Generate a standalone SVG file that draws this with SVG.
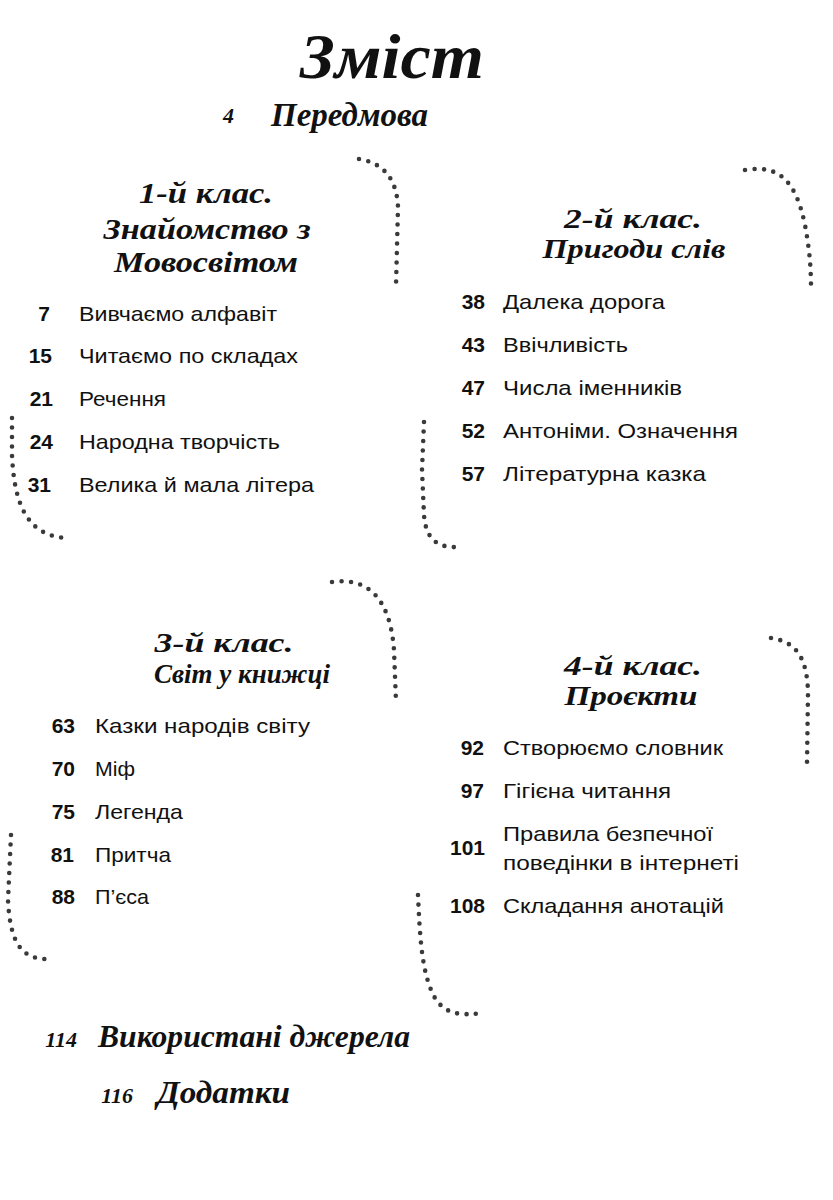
<svg xmlns="http://www.w3.org/2000/svg" width="833" height="1200" viewBox="0 0 833 1200">
<style>
.bg{fill:#ffffff}
.scr{font-family:"Liberation Serif","DejaVu Serif",serif;font-style:italic;font-weight:bold;fill:#111}
.num{font-family:"Liberation Sans","DejaVu Sans",sans-serif;font-weight:bold;font-size:21px;fill:#111;text-anchor:end}
.itm{font-family:"Liberation Sans","DejaVu Sans",sans-serif;font-size:21px;fill:#111}
.hd{font-size:29px;text-anchor:middle}
.hd2{font-size:27px;text-anchor:middle}
.dots{fill:none;stroke:#3a3a3a;stroke-width:4.6;stroke-linecap:round;stroke-dasharray:0 9.5}
</style>
<rect class="bg" x="0" y="0" width="833" height="1200"/>

<g id="title">
<text class="scr" x="392" y="78" font-size="64" text-anchor="middle" textLength="184" lengthAdjust="spacingAndGlyphs">Зміст</text>
</g>

<g id="preface">
<text class="scr" x="234" y="123" font-size="22" text-anchor="end">4</text>
<text class="scr" x="271" y="126" font-size="34" textLength="157" lengthAdjust="spacingAndGlyphs">Передмова</text>
</g>

<g id="decor">
<path class="dots" d="M359,159 Q396,165 398,207 L396,286"/>
<path class="dots" d="M745,170 C780,164 796,182 805,225 C810,252 811,270 811,289"/>
<path class="dots" d="M12,418 L12,455 C14,500 25,538 70,538"/>
<path class="dots" d="M424,422 L422,470 L424,515 C426,542 440,548 459,547"/>
<path class="dots" d="M332,582 C367,577 390,597 394,650 L396,702"/>
<path class="dots" d="M771,638 C798,642 807,660 808,692 L807,764"/>
<path class="dots" d="M11,835 L8,900 C10,942 21,959 47,959"/>
<path class="dots" d="M418,895 C420,940 422,975 435,998 C445,1014 460,1016 482,1013"/>
</g>

<g id="class1">
<text class="scr hd" x="206" y="203" textLength="134" lengthAdjust="spacingAndGlyphs">1-й клас.</text>
<text class="scr hd" x="207" y="239" textLength="207" lengthAdjust="spacingAndGlyphs">Знайомство з</text>
<text class="scr hd" x="206" y="272" textLength="184" lengthAdjust="spacingAndGlyphs">Мовосвітом</text>
<text class="num" x="50" y="321">7</text>
<text class="itm" x="79" y="321" textLength="198" lengthAdjust="spacingAndGlyphs">Вивчаємо алфавіт</text>
<text class="num" x="52" y="363">15</text>
<text class="itm" x="79" y="363" textLength="219" lengthAdjust="spacingAndGlyphs">Читаємо по складах</text>
<text class="num" x="53" y="406">21</text>
<text class="itm" x="79" y="406" textLength="87" lengthAdjust="spacingAndGlyphs">Речення</text>
<text class="num" x="53" y="449">24</text>
<text class="itm" x="79" y="449" textLength="201" lengthAdjust="spacingAndGlyphs">Народна творчість</text>
<text class="num" x="51" y="492">31</text>
<text class="itm" x="79" y="492" textLength="235" lengthAdjust="spacingAndGlyphs">Велика й мала літера</text>
</g>

<g id="class2">
<text class="scr hd2" x="633" y="228" textLength="138" lengthAdjust="spacingAndGlyphs">2-й клас.</text>
<text class="scr hd2" x="634" y="258" textLength="183" lengthAdjust="spacingAndGlyphs">Пригоди слів</text>
<text class="num" x="485" y="309">38</text>
<text class="itm" x="503" y="309" textLength="162" lengthAdjust="spacingAndGlyphs">Далека дорога</text>
<text class="num" x="485" y="352">43</text>
<text class="itm" x="503" y="352" textLength="125" lengthAdjust="spacingAndGlyphs">Ввічливість</text>
<text class="num" x="485" y="395">47</text>
<text class="itm" x="503" y="395" textLength="179" lengthAdjust="spacingAndGlyphs">Числа іменників</text>
<text class="num" x="485" y="438">52</text>
<text class="itm" x="503" y="438" textLength="235" lengthAdjust="spacingAndGlyphs">Антоніми. Означення</text>
<text class="num" x="485" y="481">57</text>
<text class="itm" x="503" y="481" textLength="203" lengthAdjust="spacingAndGlyphs">Літературна казка</text>
</g>

<g id="class3">
<text class="scr hd2" x="224" y="652" textLength="139" lengthAdjust="spacingAndGlyphs">3-й клас.</text>
<text class="scr hd2" x="242" y="683" textLength="176" lengthAdjust="spacingAndGlyphs">Світ у книжці</text>
<text class="num" x="75" y="733">63</text>
<text class="itm" x="95" y="733" textLength="215" lengthAdjust="spacingAndGlyphs">Казки народів світу</text>
<text class="num" x="75" y="776">70</text>
<text class="itm" x="95" y="776" textLength="40" lengthAdjust="spacingAndGlyphs">Міф</text>
<text class="num" x="75" y="819">75</text>
<text class="itm" x="95" y="819" textLength="88" lengthAdjust="spacingAndGlyphs">Легенда</text>
<text class="num" x="74" y="862">81</text>
<text class="itm" x="95" y="862" textLength="76" lengthAdjust="spacingAndGlyphs">Притча</text>
<text class="num" x="75" y="904">88</text>
<text class="itm" x="95" y="904" textLength="54" lengthAdjust="spacingAndGlyphs">П’єса</text>
</g>

<g id="class4">
<text class="scr hd2" x="633" y="675" textLength="138" lengthAdjust="spacingAndGlyphs">4-й клас.</text>
<text class="scr hd2" x="631" y="705" textLength="133" lengthAdjust="spacingAndGlyphs">Проєкти</text>
<text class="num" x="484" y="755">92</text>
<text class="itm" x="503" y="755" textLength="220" lengthAdjust="spacingAndGlyphs">Створюємо словник</text>
<text class="num" x="484" y="798">97</text>
<text class="itm" x="503" y="798" textLength="168" lengthAdjust="spacingAndGlyphs">Гігієна читання</text>
<text class="num" x="485" y="855">101</text>
<text class="itm" x="503" y="841" textLength="210" lengthAdjust="spacingAndGlyphs">Правила безпечної</text>
<text class="itm" x="503" y="870" textLength="236" lengthAdjust="spacingAndGlyphs">поведінки в інтернеті</text>
<text class="num" x="485" y="913">108</text>
<text class="itm" x="503" y="913" textLength="221" lengthAdjust="spacingAndGlyphs">Складання анотацій</text>
</g>

<g id="sources">
<text class="scr" x="77" y="1047" font-size="22" text-anchor="end">114</text>
<text class="scr" x="98" y="1047" font-size="32" textLength="312" lengthAdjust="spacingAndGlyphs">Використані джерела</text>
</g>

<g id="appendix">
<text class="scr" x="133" y="1103" font-size="22" text-anchor="end">116</text>
<text class="scr" x="157" y="1103" font-size="32" textLength="133" lengthAdjust="spacingAndGlyphs">Додатки</text>
</g>
</svg>
